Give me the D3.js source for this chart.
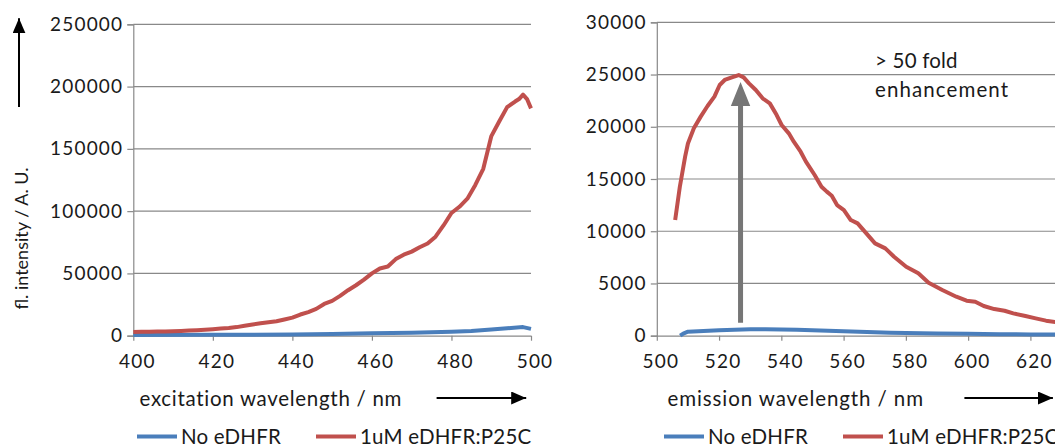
<!DOCTYPE html>
<html>
<head>
<meta charset="utf-8">
<script src="https://cdn.jsdelivr.net/npm/d3@7"></script>
<style>
  body { margin: 0; background: #fff; }
  svg text { font-family: Lato, "Open Sans", sans-serif; fill: #1a1a1a; }
</style>
</head>
<body>
<script>
// excitation spectrum (left)
var exWaveRed = [400, 402, 404, 406, 408, 410, 412, 414, 416, 418, 420, 422, 424, 426, 428, 430, 432, 434, 436, 438,
    440, 442, 444, 446, 448, 450, 452, 454, 456, 458, 460, 462, 464, 466, 468, 470, 472, 474, 476, 478,
    480, 482, 484, 486, 488, 490, 492, 494, 496, 497, 498, 499, 500];
var exRed = [3000, 3100, 3200, 3300, 3400, 3600, 3800, 4100, 4400, 4800, 5200, 5700, 6200, 6900, 8000, 9000, 10000, 10800, 11600, 13000,
    14500, 17000, 19000, 21500, 25500, 28000, 32000, 36500, 40500, 45000, 50000, 54000, 55500, 61500, 65000, 67500, 71000, 74000, 79500, 88500,
    98500, 103500, 110000, 121000, 134000, 160000, 172000, 183500, 188000, 190000, 193500, 190000, 182500];
var exWaveBlue = [400, 420, 440, 450, 460, 470, 480, 485, 490, 494, 498, 500];
var exBlue = [600, 700, 1000, 1300, 1900, 2400, 3200, 3700, 4900, 6000, 6900, 5500];

// emission spectrum (right)
var emWaveRed = [505.9, 507.4, 509.1, 510, 511.9, 514.1, 516.3, 518.5, 520.2, 521.8, 524.1, 526.3, 527.9, 529.6, 531.8, 534, 536.3, 538.5,
    540.1, 542.4, 544, 546.2, 547.9, 550.7, 552.9, 554.6, 556.2, 557.9, 560.1, 562.3, 564.5, 567.3, 570.1, 573.4, 576.2,
    580.1, 584, 587.3, 591.7, 596.2, 599.5, 602.3, 605, 608.4, 611.7, 614.5, 618.4, 621.7, 625, 628.1, 634];
var emRed = [11070, 14260, 17140, 18400, 19850, 20970, 21990, 22880, 24000, 24480, 24730, 24950, 24730, 24160, 23520, 22720, 22240, 21120,
    20170, 19370, 18570, 17610, 16660, 15380, 14260, 13790, 13400, 12510, 12030, 11070, 10750, 9800, 8840, 8360, 7560,
    6600, 5970, 5070, 4370, 3730, 3350, 3250, 2840, 2550, 2390, 2140, 1880, 1660, 1440, 1310, 1150];
var emWaveBlue = [507.5, 508.5, 510, 515, 520, 525, 530, 535, 540, 545, 550, 555, 560, 565, 570, 575, 580, 590, 600, 610, 620, 634];
var emBlue = [0, 200, 380, 450, 530, 580, 610, 620, 600, 570, 520, 470, 420, 380, 330, 290, 260, 220, 190, 150, 120, 100];

var exXTicks = [400, 420, 440, 460, 480, 500];
var exYTicks = [0, 50000, 100000, 150000, 200000, 250000];
var emXTicks = [500, 520, 540, 560, 580, 600, 620];
var emYTicks = [0, 5000, 10000, 15000, 20000, 25000, 30000];
var seriesNames = ["No eDHFR", "1uM eDHFR:P25C"];
var seriesColors = ["#4a7ebb", "#c0504d"];

var w = 1055, h = 446;
var gridColor = "#898989";
var svg = d3.select("body").append("svg").attr("width", w).attr("height", h);

var defs = svg.append("defs");
defs.append("marker").attr("id", "blackhead")
    .attr("viewBox", "0 0 15 13").attr("refX", 15).attr("refY", 6.5)
    .attr("markerWidth", 15).attr("markerHeight", 13).attr("markerUnits", "userSpaceOnUse")
    .attr("orient", "auto")
    .append("path").attr("d", "M0,0L15,6.5L0,13Z").attr("fill", "#000");

function drawPanel(opt) {
    var xScale = d3.scaleLinear().domain(opt.xDomain).range(opt.xRange);
    var yScale = d3.scaleLinear().domain(opt.yDomain).range(opt.yRange);
    var g = svg.append("g");

    // gridlines
    g.selectAll("line.grid").data(opt.yTicks.slice(1)).join("line")
        .attr("class", "grid")
        .attr("x1", opt.xRange[0]).attr("x2", opt.gridEnd)
        .attr("y1", d => yScale(d)).attr("y2", d => yScale(d))
        .attr("stroke", gridColor).attr("stroke-width", 1.2);

    var yAxis = d3.axisLeft(yScale).tickValues(opt.yTicks).tickSize(6).tickPadding(4).tickFormat(d3.format("d"));
    var ya = g.append("g").attr("transform", "translate(" + opt.xRange[0] + ",0)").call(yAxis);
    ya.select(".domain").attr("stroke", gridColor).attr("stroke-width", 1.2);
    ya.selectAll(".tick line").attr("stroke", gridColor).attr("stroke-width", 1.2);
    ya.selectAll("text").attr("font-size", "19px").attr("letter-spacing", "1.2px").attr("fill", "#1a1a1a");

    var xAxis = d3.axisBottom(xScale).tickValues(opt.xTicks).tickSize(5).tickPadding(14).tickSizeOuter(0);
    var xa = g.append("g").attr("transform", "translate(0," + opt.yRange[0] + ")").call(xAxis);
    xa.select(".domain").attr("d", "M" + opt.xRange[0] + ",0.5H" + opt.gridEnd)
        .attr("stroke", gridColor).attr("stroke-width", 1.2);
    xa.selectAll(".tick line").attr("stroke", gridColor).attr("stroke-width", 1.2);
    xa.selectAll("text").attr("font-size", "19px").attr("letter-spacing", "1.2px")
        .attr("dx", "3.5px").attr("fill", "#1a1a1a");

    var line = d3.line().x(d => xScale(d[0])).y(d => yScale(d[1]));
    opt.series.forEach(function (s, i) {
        g.append("path")
            .datum(d3.zip(s.wave, s.vals))
            .attr("d", line)
            .attr("fill", "none")
            .attr("stroke", seriesColors[i])
            .attr("stroke-width", 4)
            .attr("stroke-linejoin", "round");
    });

    // x label + arrow
    g.append("text").attr("x", opt.labelX).attr("y", 398)
        .attr("dominant-baseline", "central").attr("font-size", "20.5px")
        .attr("letter-spacing", opt.labelSpacing)
        .text(opt.xLabel);
    g.append("line").attr("x1", opt.arrowX[0]).attr("x2", opt.arrowX[1])
        .attr("y1", 398).attr("y2", 398)
        .attr("stroke", "#000").attr("stroke-width", 2)
        .attr("marker-end", "url(#blackhead)");

    // legend
    var lg = g.append("g");
    seriesNames.forEach(function (name, i) {
        var x0 = opt.legendX[i];
        lg.append("line").attr("x1", x0).attr("x2", x0 + 40).attr("y1", 436.5).attr("y2", 436.5)
            .attr("stroke", seriesColors[i]).attr("stroke-width", 4);
        lg.append("text").attr("x", x0 + 44).attr("y", 435.5)
            .attr("dominant-baseline", "central").attr("font-size", "20.5px")
            .attr("letter-spacing", "0.2px")
            .text(name);
    });
    return { x: xScale, y: yScale, g: g };
}

var left = drawPanel({
    xDomain: [400, 500], xRange: [133.3, 531],
    yDomain: [0, 250000], yRange: [335.7, 24.3],
    gridEnd: 531,
    xTicks: exXTicks, yTicks: exYTicks,
    series: [{ wave: exWaveBlue, vals: exBlue }, { wave: exWaveRed, vals: exRed }],
    xLabel: "excitation wavelength / nm", labelX: 139.5, labelSpacing: "0.7px", arrowX: [436.6, 526.2],
    legendX: [137, 316]
});

var right = drawPanel({
    xDomain: [500, 627.9], xRange: [656.8, 1055],
    yDomain: [0, 30000], yRange: [335.7, 22.3],
    gridEnd: 1055,
    xTicks: emXTicks, yTicks: emYTicks,
    series: [{ wave: emWaveBlue, vals: emBlue }, { wave: emWaveRed, vals: emRed }],
    xLabel: "emission wavelength / nm", labelX: 667.5, labelSpacing: "0.9px", arrowX: [964.4, 1052.9],
    legendX: [664, 843]
});

// y label + vertical arrow
svg.append("text")
    .attr("transform", "translate(21.3,238.5) rotate(-90)")
    .attr("text-anchor", "middle").attr("dominant-baseline", "central")
    .attr("font-size", "18px")
    .text("fl. intensity / A. U.");
svg.append("line").attr("x1", 19).attr("x2", 19).attr("y1", 107).attr("y2", 18.3)
    .attr("stroke", "#000").attr("stroke-width", 2)
    .attr("marker-end", "url(#blackhead)");

// enhancement arrow
var ax = right.x(526.9);
var base = right.y(1250), tip = 82;
svg.append("path")
    .attr("d", "M" + (ax - 2.5) + "," + base + "V" + (tip + 24) + "H" + (ax - 9.7) + "L" + ax + "," + tip +
        "L" + (ax + 9.7) + "," + (tip + 24) + "H" + (ax + 2.5) + "V" + base + "Z")
    .attr("fill", "#767676");

svg.append("text").attr("x", 875).attr("y", 60).attr("dominant-baseline", "central")
    .attr("font-size", "20.5px").attr("letter-spacing", "0.2px").text("> 50 fold");
svg.append("text").attr("x", 875).attr("y", 89).attr("dominant-baseline", "central")
    .attr("font-size", "20.5px").attr("letter-spacing", "1.1px").text("enhancement");
</script>
</body>
</html>
